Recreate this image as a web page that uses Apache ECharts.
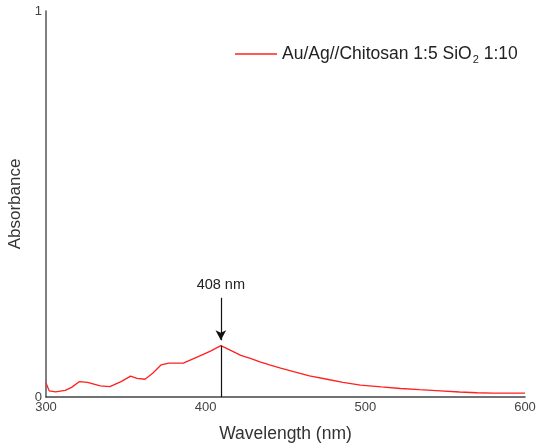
<!DOCTYPE html>
<html>
<head>
<meta charset="utf-8">
<script src="https://cdn.jsdelivr.net/npm/echarts@6/dist/echarts.min.js"></script>
<style>html,body{margin:0;padding:0;background:#fff}#c{width:541px;height:445px}</style>
</head>
<body>
<div id="c"></div>
<script>
var wavelengths = [300,302,306,312,316,321,326,334,340,347,353,357,362,367,372,377,386,396,403,409.5,416,422,428,434,440,447,455,465,476,486,497,510,522,534,547,559,570,580,590,600];
var absorbance = [0.036,0.016,0.013,0.017,0.025,0.040,0.038,0.029,0.027,0.040,0.054,0.048,0.046,0.062,0.083,0.088,0.088,0.106,0.119,0.133,0.120,0.108,0.100,0.091,0.083,0.075,0.066,0.055,0.046,0.038,0.031,0.026,0.022,0.019,0.016,0.013,0.011,0.010,0.010,0.010];
var xTicks = [300,400,500,600];
var yTicks = [0,1];
var peakNm = 409.5;
var peakAbs = 0.133;
var arrowFrom = 0.257;
var arrowTo = 0.147;
var peakLabel = '408 nm';
var seriesName = 'Au/Ag//Chitosan 1:5 SiO2 1:10';

var chart = echarts.init(document.getElementById('c'));
var font = 'Liberation Sans, Arial, sans-serif';
chart.setOption({
  animation: false,
  grid: {left: 46, right: 16, top: 11, bottom: 48, containLabel: false, outerBoundsMode: 'none'},
  legend: {
    left: 230, top: 40,
    icon: 'rect', itemWidth: 42, itemHeight: 1.5,
    data: [seriesName],
    formatter: function(){ return '{a|Au/Ag//Chitosan 1:5 SiO}{s|2}{a| 1:10}'; },
    textStyle: {
      fontFamily: font, color: '#222',
      rich: {
        a: {fontFamily: font, fontSize: 17.5, color: '#222'},
        s: {fontFamily: font, fontSize: 11, color: '#222', padding: [11, 0, 0, 1]}
      }
    }
  },
  xAxis: {
    type: 'value', min: 300, max: 600, interval: 100,
    name: 'Wavelength (nm)', nameLocation: 'middle', nameGap: 28,
    nameTextStyle: {fontFamily: font, fontSize: 17.5, color: '#333'},
    axisLine: {lineStyle: {color: '#444', width: 1.5}},
    axisTick: {show: false},
    splitLine: {show: false},
    axisLabel: {fontFamily: font, fontSize: 13, color: '#444', margin: 4,
      formatter: function(v){ return xTicks.indexOf(v) >= 0 ? String(v) : ''; }}
  },
  yAxis: {
    type: 'value', min: 0, max: 1, interval: 1,
    name: 'Absorbance', nameLocation: 'middle', nameGap: 13, nameRotate: 90,
    nameTextStyle: {fontFamily: font, fontSize: 17, color: '#333'},
    axisLine: {show: true, lineStyle: {color: '#555', width: 1.5}},
    axisTick: {show: false},
    splitLine: {show: false},
    axisLabel: {fontFamily: font, fontSize: 13, color: '#444', margin: 4,
      formatter: function(v){ return yTicks.indexOf(v) >= 0 ? String(v) : ''; }}
  },
  series: [{
    name: seriesName,
    type: 'line',
    data: wavelengths.map(function(w, i){ return [w, absorbance[i]]; }),
    showSymbol: false,
    lineStyle: {color: '#ff2020', width: 1.3},
    itemStyle: {color: '#ff2020'},
    markLine: {
      silent: true,
      animation: false,
      data: [
        [{coord: [peakNm, 0], symbol: 'none'}, {coord: [peakNm, peakAbs], symbol: 'none'}],
        [{coord: [peakNm, arrowFrom], symbol: 'none', label: {show: true, position: 'start', formatter: peakLabel}},
         {coord: [peakNm, arrowTo], symbol: 'arrow', symbolSize: [8, 10]}]
      ],
      lineStyle: {color: '#111', type: 'solid', width: 1.2},
      label: {show: false, fontFamily: font, fontSize: 14.5, color: '#222', distance: 5}
    }
  }]
});
</script>
</body>
</html>
